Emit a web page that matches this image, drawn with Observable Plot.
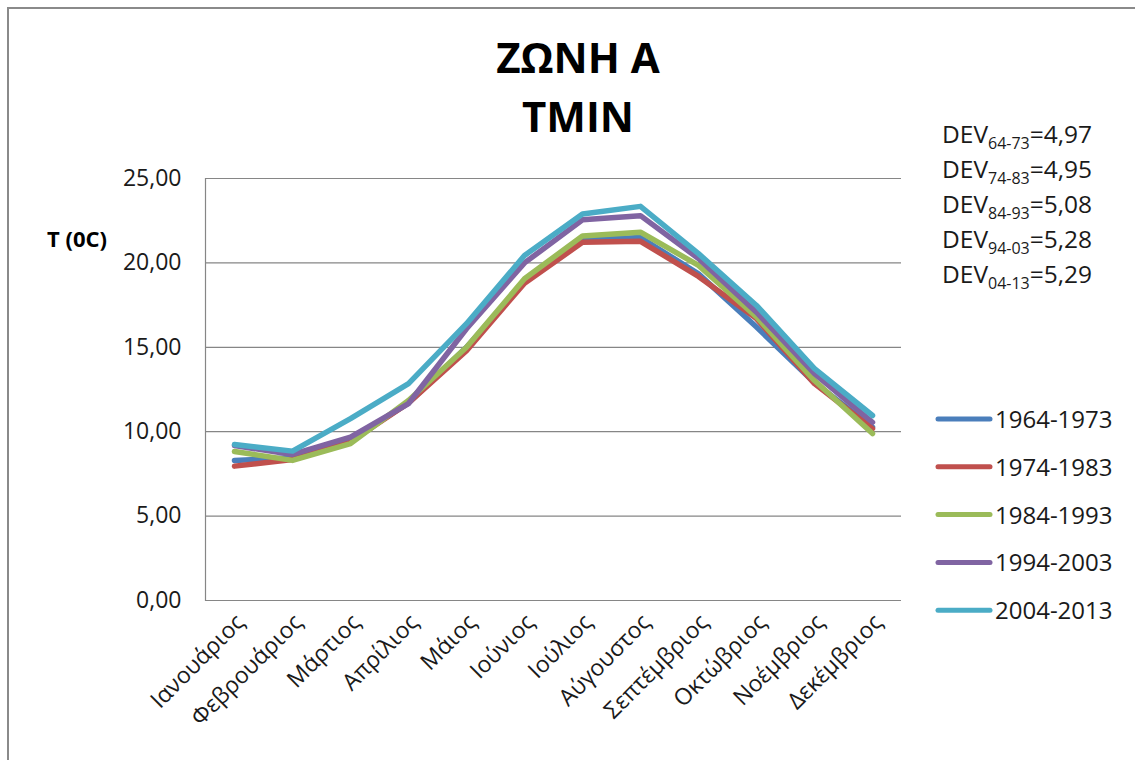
<!DOCTYPE html>
<html>
<head>
<meta charset="utf-8">
<script src="https://cdn.jsdelivr.net/npm/d3@7"></script>
<script src="https://cdn.jsdelivr.net/npm/@observablehq/plot@0.6"></script>
<style>
  body { margin: 0; background: #fff; overflow: hidden; }
  #wrap { position: relative; width: 1135px; height: 760px; overflow: hidden; font-family: "Open Sans", sans-serif; }
  #border { position: absolute; left: 7px; top: 7px; width: 1200px; height: 800px; border: 2px solid #8a8a8a; box-sizing: border-box; }
  #wrap svg { position: absolute; left: 0; top: 0; }
</style>
</head>
<body>
<div id="wrap"><div id="border"></div></div>
<script>
// Months on the x axis
const months = ["Ιανουάριος", "Φεβρουάριος", "Μάρτιος", "Απρίλιος", "Μάιος", "Ιούνιος",
                "Ιούλιος", "Αύγουστος", "Σεπτέμβριος", "Οκτώβριος", "Νοέμβριος", "Δεκέμβριος"];

// Decades (series names) and their colours
const periods = ["1964-1973", "1974-1983", "1984-1993", "1994-2003", "2004-2013"];
const colors = ["#4a7ebb", "#c0504d", "#9bbb59", "#8064a2", "#4bacc6"];

// Mean monthly minimum temperature (°C) per decade
const t1964 = [8.30, 8.45, 9.50, 11.70, 15.00, 18.90, 21.35, 21.50, 19.35, 16.20, 12.90, 10.27];
const t1974 = [7.96, 8.35, 9.40, 11.70, 14.80, 18.80, 21.22, 21.28, 19.20, 16.70, 12.85, 10.18];
const t1984 = [8.83, 8.30, 9.30, 11.85, 15.00, 19.06, 21.60, 21.82, 19.85, 16.80, 13.03, 9.89];
const t1994 = [9.18, 8.65, 9.68, 11.67, 16.10, 20.00, 22.55, 22.80, 20.26, 17.08, 13.44, 10.56];
const t2004 = [9.24, 8.85, 10.78, 12.85, 16.40, 20.44, 22.90, 23.35, 20.55, 17.48, 13.74, 10.96];

// Standard deviation per decade shown at the top right
const devSubs = ["64-73", "74-83", "84-93", "94-03", "04-13"];
const devValues = ["4,97", "4,95", "5,08", "5,28", "5,29"];

// Y axis ticks
const yTicks = [0, 5, 10, 15, 20, 25];

const seriesValues = [t1964, t1974, t1984, t1994, t2004];
const rows = periods.flatMap((p, i) => months.map((m, j) => ({period: p, month: m, t: seriesValues[i][j]})));

const fmt = d => d.toFixed(2).replace(".", ",");
const grid = "#868686";

const plot = Plot.plot({
  width: 1135,
  height: 760,
  marginLeft: 205,
  marginRight: 234,
  marginTop: 178,
  marginBottom: 160,
  style: {fontFamily: "'Open Sans', sans-serif", background: "transparent", color: "#1a1a1a"},
  x: {type: "point", domain: months, padding: 0.5},
  y: {domain: [0, 25]},
  color: {domain: periods, range: colors},
  marks: [
    Plot.ruleY(yTicks, {stroke: grid, strokeWidth: 1.2}),
    Plot.frame({anchor: "left", stroke: grid, strokeWidth: 1.2}),
    Plot.axisY({ticks: yTicks, tickSize: 0, tickPadding: 24, tickFormat: fmt, fontSize: 23, label: null}),
    Plot.axisX({tickSize: 0, tickPadding: 18, dx: 6, tickRotate: -45, fontSize: 23, label: null}),
    Plot.line(rows, {x: "month", y: "t", z: "period", stroke: "period", strokeWidth: 5.5,
                     strokeLinejoin: "round", strokeLinecap: "round"})
  ]
});

const wrap = document.getElementById("wrap");
wrap.appendChild(plot);

// Titles, axis caption, DEV annotations and legend
const color = plot.scale("color");
const svg = d3.select(wrap).append("svg")
  .attr("width", 1135).attr("height", 760)
  .style("font-family", "'Open Sans', sans-serif");

svg.append("text").attr("x", 578).attr("y", 73).attr("text-anchor", "middle")
  .attr("font-size", 42).attr("font-weight", "bold").attr("fill", "#000").text("ΖΩΝΗ Α");
svg.append("text").attr("x", 578).attr("y", 132).attr("text-anchor", "middle")
  .attr("font-size", 42).attr("font-weight", "bold").attr("fill", "#000").text("TMIN");

svg.append("text").attr("x", 47).attr("y", 247)
  .attr("font-size", 22).attr("font-weight", "bold").attr("fill", "#000").text("T (0C)");

devSubs.forEach((s, i) => {
  const t = svg.append("text").attr("x", 942).attr("y", 143 + i * 35)
    .attr("font-size", 24.5).attr("fill", "#1a1a1a");
  t.append("tspan").text("DEV");
  t.append("tspan").attr("font-size", 16).attr("dy", 6).text(s);
  t.append("tspan").attr("dy", -6).text("=" + devValues[i]);
});

periods.forEach((p, i) => {
  const y = 419 + i * 47.8;
  svg.append("line").attr("x1", 938).attr("x2", 990).attr("y1", y).attr("y2", y)
    .attr("stroke", color.apply(p)).attr("stroke-width", 5).attr("stroke-linecap", "round");
  svg.append("text").attr("x", 995).attr("y", y + 9)
    .attr("font-size", 24).attr("fill", "#1a1a1a").text(p);
});
</script>
</body>
</html>
